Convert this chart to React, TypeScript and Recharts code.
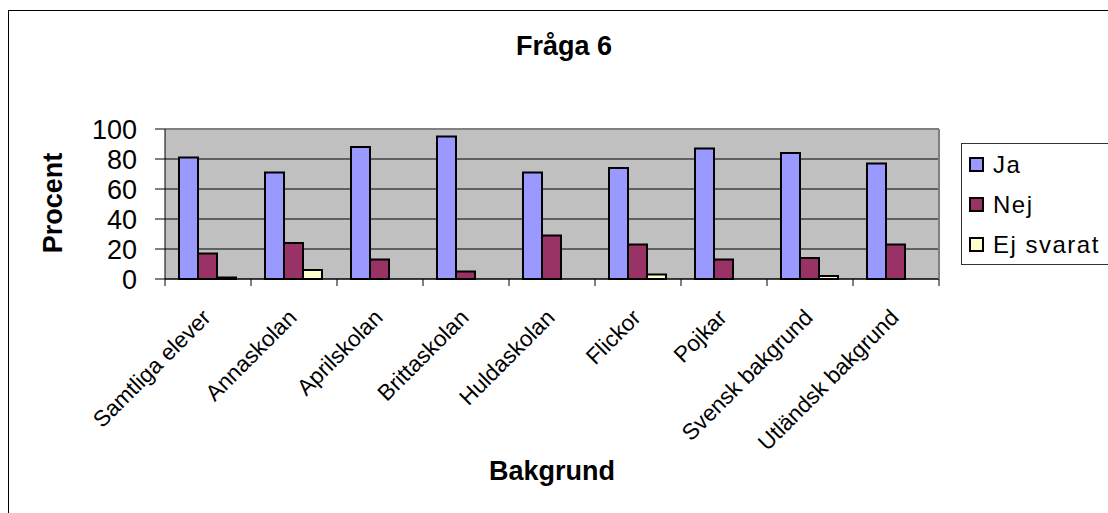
import React from 'react';
import { BarChart, Bar, XAxis, YAxis, CartesianGrid, ReferenceLine } from 'recharts';

const CATEGORIES = [
  'Samtliga elever',
  'Annaskolan',
  'Aprilskolan',
  'Brittaskolan',
  'Huldaskolan',
  'Flickor',
  'Pojkar',
  'Svensk bakgrund',
  'Utländsk bakgrund',
];
const JA = [81, 71, 88, 95, 71, 74, 87, 84, 77];
const NEJ = [17, 24, 13, 5, 29, 23, 13, 14, 23];
const EJ_SVARAT = [1, 6, 0, 0, 0, 3, 0, 2, 0];
const Y_TICKS = [0, 20, 40, 60, 80, 100];

const SERIES = [
  { key: 'ja', name: 'Ja', color: '#9999FF' },
  { key: 'nej', name: 'Nej', color: '#993366' },
  { key: 'ej', name: 'Ej svarat', color: '#FFFFCC' },
];

const TITLE = 'Fråga 6';
const X_TITLE = 'Bakgrund';
const Y_TITLE = 'Procent';

const data = CATEGORIES.map((c, i) => ({ name: c, ja: JA[i], nej: NEJ[i], ej: EJ_SVARAT[i] }));

const W = 1108;
const H = 513;
const FONT = "'Liberation Sans', Arial, Helvetica, sans-serif";
const MARGIN = { top: 129, right: 168, bottom: 134, left: 0 };
const Y_AXIS_W = 165;
const X_AXIS_H = 100;
const PLOT_W = W - MARGIN.left - MARGIN.right - Y_AXIS_W - 1;
const BAND = PLOT_W / CATEGORIES.length;

const XTick = (props: any) => {
  const { x, y, payload, index } = props;
  const half = BAND / 2;
  const tx = x + 4;
  const ty = y + 40;
  return (
    <g>
      <line x1={x - half} x2={x - half} y1={y} y2={y + 7} stroke="#000" strokeWidth={1} />
      {index === CATEGORIES.length - 1 && (
        <line x1={x + half} x2={x + half} y1={y} y2={y + 7} stroke="#000" strokeWidth={1} />
      )}
      <text
        x={tx}
        y={ty}
        textAnchor="end"
        transform={`rotate(-45 ${tx} ${ty})`}
        fontSize={22.5}
        fontFamily={FONT}
        fill="#000"
      >
        {payload.value}
      </text>
    </g>
  );
};

export default function App() {
  return (
    <div style={{ position: 'absolute', left: 0, top: 0, width: W, height: H, overflow: 'hidden', background: '#fff' }}>
      <div
        style={{
          position: 'absolute',
          left: 8,
          top: 10,
          width: W + 50,
          height: H + 50,
          borderLeft: '1px solid #000',
          borderTop: '1px solid #000',
        }}
      />
      <div style={{ position: 'absolute', left: 0, top: 0 }}>
        <BarChart width={W} height={H} data={data} margin={MARGIN} barCategoryGap={14} barGap={0}>
          <CartesianGrid vertical={false} stroke="#000" fill="#C0C0C0" fillOpacity={1} yAxisId="left" />
          <XAxis
            dataKey="name"
            interval={0}
            height={X_AXIS_H}
            axisLine={{ stroke: '#000', strokeWidth: 1 }}
            tickLine={false}
            tickSize={0}
            tickMargin={0}
            tick={<XTick />}
          />
          <YAxis
            yAxisId="left"
            domain={[0, 100]}
            ticks={Y_TICKS}
            interval={0}
            width={Y_AXIS_W}
            axisLine={{ stroke: '#000', strokeWidth: 1 }}
            tickLine={{ stroke: '#000', strokeWidth: 1 }}
            tickSize={10}
            tickMargin={18}
            tick={{ fontSize: 27, fontFamily: FONT, fill: '#000' }}
          />
          <YAxis
            yAxisId="right"
            orientation="right"
            width={1}
            tick={false}
            tickLine={false}
            axisLine={{ stroke: '#808080', strokeWidth: 2 }}
          />
          <ReferenceLine yAxisId="left" y={100} stroke="#808080" strokeWidth={2} />
          {SERIES.map((s) => (
            <Bar
              key={s.key}
              yAxisId="left"
              dataKey={s.key}
              name={s.name}
              fill={s.color}
              stroke="#000"
              strokeWidth={2}
              isAnimationActive={false}
            />
          ))}
        </BarChart>
      </div>
      <svg width={W} height={H} style={{ position: 'absolute', left: 0, top: 0, pointerEvents: 'none' }}>
        <text x={564} y={55} textAnchor="middle" fontSize={27} fontWeight="bold" fontFamily={FONT} fill="#000">
          {TITLE}
        </text>
        <text x={552} y={480} textAnchor="middle" fontSize={27} fontWeight="bold" fontFamily={FONT} fill="#000">
          {X_TITLE}
        </text>
        <text
          x={62}
          y={203}
          textAnchor="middle"
          transform="rotate(-90 62 203)"
          fontSize={27}
          fontWeight="bold"
          fontFamily={FONT}
          fill="#000"
        >
          {Y_TITLE}
        </text>
        <rect x={961.5} y={143.5} width={200} height={121} fill="#fff" stroke="#333" strokeWidth={1} />
        {SERIES.map((s, i) => (
          <g key={s.key}>
            <rect x={970} y={158 + i * 40} width={13} height={13} fill={s.color} stroke="#000" strokeWidth={2} />
            <text x={993} y={173 + i * 40} fontSize={24} letterSpacing={1.5} fontFamily={FONT} fill="#000">
              {s.name}
            </text>
          </g>
        ))}
      </svg>
    </div>
  );
}
